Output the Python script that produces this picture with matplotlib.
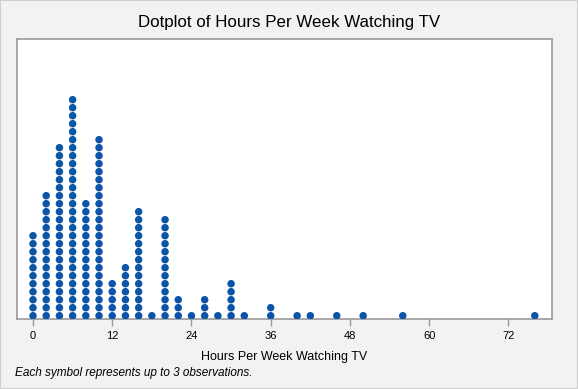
import numpy as np
import matplotlib
matplotlib.use("Agg")
import matplotlib.pyplot as plt
from matplotlib.patches import Rectangle

# dotplot bins (hours) and number of symbols stacked in each
hours = [0, 2, 4, 6, 8, 10, 12, 14, 16, 18, 20, 22, 24, 26, 28, 30, 32,
         36, 40, 42, 46, 50, 56, 76]
symbols = [11, 16, 22, 28, 15, 23, 5, 7, 14, 1, 13, 3, 1, 3, 1, 5, 1,
           2, 1, 1, 1, 1, 1, 1]
tick_values = [0, 12, 24, 36, 48, 60, 72]

plt.rcParams['font.family'] = ['Liberation Sans', 'DejaVu Sans']

fig = plt.figure(figsize=(5.78, 3.89), dpi=100, facecolor='#f2f2f2')
fig.patches.append(Rectangle((0, 0), 1, 1, transform=fig.transFigure,
                             fill=False, edgecolor='#cfcfcf', linewidth=1.5))

W, H = 578, 389
left, right, top, bottom = 16.5, 552, 38.5, 319
ax = fig.add_axes([left / W, 1 - bottom / H, (right - left) / W, (bottom - top) / H])
ax.set_facecolor('white')

xs, ys = [], []
for h, n in zip(hours, symbols):
    for k in range(n):
        xs.append(h)
        ys.append(k)
ax.scatter(xs, ys, s=29, color='#0b54a8', edgecolors='none', zorder=3)

ax.set_xlim(-2.5, 78.6)
ax.set_ylim(-0.41, 34.65)
ax.set_yticks([])
ax.set_xticks(tick_values)
ax.set_xticklabels([str(t) for t in tick_values])
ax.tick_params(axis='x', direction='out', length=5, width=1, color='#999999',
               labelsize=8, pad=3.5)
for s in ax.spines.values():
    s.set_color('#999999')
    s.set_linewidth(1.2)

ax.set_xlabel('Hours Per Week Watching TV', fontsize=9, labelpad=7)
fig.text(0.5, 1 - 22 / H, 'Dotplot of Hours Per Week Watching TV',
         ha='center', va='center', fontsize=12.2)
fig.text(15 / W, 1 - 373 / H, 'Each symbol represents up to 3 observations.',
         ha='left', va='center', fontsize=8.5, style='italic')

fig.savefig('out.png', dpi=100, facecolor=fig.get_facecolor())
